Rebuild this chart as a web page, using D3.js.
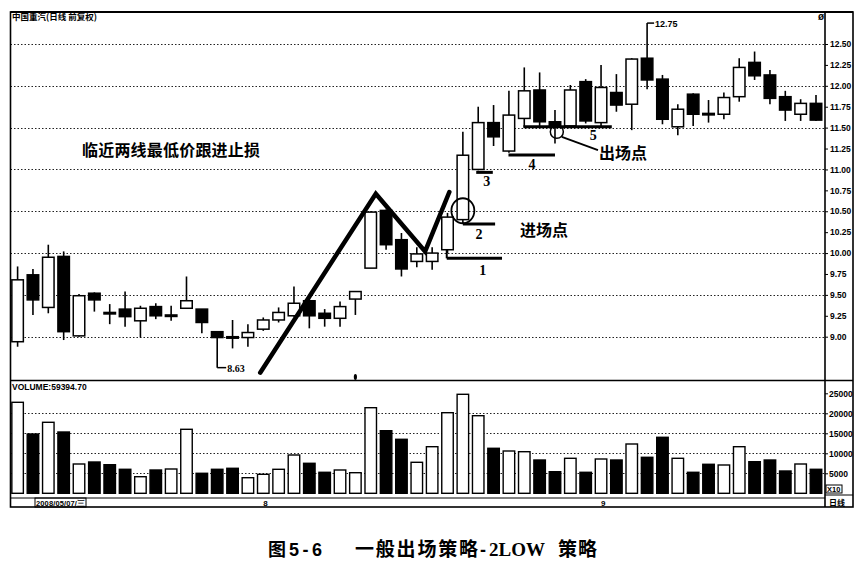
<!DOCTYPE html>
<html><head><meta charset="utf-8">
<script src="https://cdn.jsdelivr.net/npm/d3@7"></script>
<style>
body{margin:0;background:#fff;}
svg{display:block;}
</style></head>
<body>
<svg id="c" width="866" height="572"></svg>
<script>
// ---- data ----
const opens  = [8.94,9.74,9.35,9.96,9.01,9.52,9.29,9.33,9.19,9.36,9.25,9.34,9.33,9.06,9.00,8.99,9.09,9.20,9.25,9.43,9.28,9.22,9.45,9.82,10.51,10.16,9.90,9.90,10.04,10.40,11.00,11.56,11.22,11.61,11.95,11.57,11.52,12.05,11.56,11.92,11.78,12.33,12.08,11.51,11.90,11.67,11.66,11.87,12.28,12.13,11.87,11.66,11.79];
const highs  = [9.84,9.81,10.10,10.02,9.51,9.53,9.39,9.54,9.37,9.40,9.37,9.72,9.33,9.06,9.20,9.15,9.23,9.35,9.60,9.45,9.33,9.42,9.54,10.50,10.52,10.24,10.07,10.07,10.48,11.45,11.75,11.77,11.94,12.22,12.16,11.71,12.01,12.08,12.25,12.14,12.33,12.75,12.13,11.78,11.91,11.83,11.92,12.33,12.41,12.19,11.94,11.84,11.89];
const lows   = [8.88,9.26,9.28,8.96,9.00,9.30,9.15,9.12,8.99,9.21,9.19,9.34,9.04,8.63,8.86,8.88,9.07,9.17,9.24,9.10,9.12,9.12,9.26,9.82,10.04,9.72,9.83,9.80,10.00,10.36,10.99,11.28,11.20,11.51,11.51,11.31,11.50,11.55,11.52,11.69,11.47,11.96,11.54,11.41,11.52,11.56,11.60,11.81,12.07,11.78,11.58,11.58,11.58];
const closes = [9.68,9.44,9.95,9.06,9.49,9.44,9.28,9.24,9.34,9.25,9.26,9.43,9.17,8.99,8.99,9.05,9.20,9.29,9.40,9.25,9.22,9.36,9.54,10.49,10.10,9.81,9.99,10.00,10.43,11.17,11.56,11.39,11.65,11.94,11.57,11.52,11.95,11.58,11.98,11.77,12.32,12.07,11.60,11.72,11.66,11.66,11.86,12.22,12.12,11.85,11.71,11.79,11.59];
const volumes = [22750,14825,17750,15325,7325,7825,7150,6000,4150,5825,6075,16000,5000,6000,6250,3900,4750,6000,9575,7500,5250,5825,5150,21400,15650,13500,7750,11650,20150,24750,19400,11250,10575,10400,8325,5400,8750,5250,8575,8325,12325,9000,14000,8750,5250,7250,7075,11650,7900,8325,5575,7325,6000];
const priceTicks = [9.00,9.25,9.50,9.75,10.00,10.25,10.50,10.75,11.00,11.25,11.50,11.75,12.00,12.25,12.50];
const priceGrid = [9.0,9.5,10.0,10.5,11.0,11.5,12.0,12.5];
const volTicks = [5000,10000,15000,20000,25000];
const volGrid = [5000,10000,15000,20000];
const titleText = "中国重汽(日线 前复权)";
const volumeLabel = "VOLUME:59394.70";
const noteText = "临近两线最低价跟进止损";
const entryText = "进场点";
const exitText = "出场点";
// hand-drawn trend polyline in (bar index, price)
const trendPts = [[15.8,8.57],[23.33,10.71],[26.54,10.02],[28.12,10.73]];
// numbered stop lines
const stopLines = [
  {label:"1", i0:27.95, i1:31.55, p:9.937, li:30.3, dy:17},
  {label:"2", i0:29.0,  i1:31.1,  p:10.347, li:30.05, dy:15},
  {label:"3", i0:29.87, i1:30.95, p:10.965, li:30.55, dy:14},
  {label:"4", i0:31.97, i1:35.0,  p:11.172, li:33.5, dy:14},
  {label:"5", i0:32.94, i1:38.7,  p:11.51, li:37.5, dy:13}
];

// ---- layout ----
const svg = d3.select("#c");
const L = 10.5, R = 825, RR = 853, T = 12, PB = 380.5, SB = 507;
const n = opens.length;
const x = d3.scaleLinear().domain([0, n-1]).range([17.6, 816]);
const y = d3.scaleLinear().domain([9, 12.5]).range([336.7, 44]);
const yv = d3.scaleLinear().domain([0, 25000]).range([493.3, 393.3]);
const bw = 11.5;
const axisFont = "'Liberation Sans Narrow','Liberation Sans',Arial,sans-serif";
const serif = "'Liberation Serif',serif";
const cjk = "'Noto Sans CJK SC',sans-serif";

// gridlines
svg.append("g").selectAll("line").data(priceGrid).join("line")
  .attr("x1", L).attr("x2", R).attr("y1", d=>Math.round(y(d))+0.5).attr("y2", d=>Math.round(y(d))+0.5)
  .attr("stroke","#222").attr("stroke-width",1).attr("stroke-dasharray","1.5,2");
svg.append("g").selectAll("line").data(volGrid).join("line")
  .attr("x1", L).attr("x2", R).attr("y1", d=>Math.round(yv(d))+0.5).attr("y2", d=>Math.round(yv(d))+0.5)
  .attr("stroke","#222").attr("stroke-width",1).attr("stroke-dasharray","1.5,2");

// frame
const fr = svg.append("g").attr("fill","none").attr("stroke","#000");
fr.append("rect").attr("x",L).attr("y",T).attr("width",RR-L).attr("height",SB-T).attr("stroke-width",1.6);
fr.append("line").attr("x1",R).attr("x2",R).attr("y1",T).attr("y2",SB).attr("stroke-width",1.6);
fr.append("line").attr("x1",L).attr("x2",RR).attr("y1",PB).attr("y2",PB).attr("stroke-width",1.6);
fr.append("line").attr("x1",L).attr("x2",R).attr("y1",498).attr("y2",498).attr("stroke-width",1);
fr.append("line").attr("x1",R).attr("x2",RR).attr("y1",495).attr("y2",495).attr("stroke-width",1);
fr.append("line").attr("x1",L).attr("x2",RR).attr("y1",T).attr("y2",T).attr("stroke-width",2.2);

// axes
const ax = svg.append("g").attr("transform",`translate(${R},0)`)
  .call(d3.axisRight(y).tickValues(priceTicks).tickSize(3).tickPadding(2).tickFormat(d3.format(".2f")));
ax.select(".domain").remove();
ax.selectAll("text").attr("font-family",axisFont).attr("font-size",8.5).attr("font-weight","bold");
const avx = svg.append("g").attr("transform",`translate(${R},0)`)
  .call(d3.axisRight(yv).tickValues(volTicks).tickSize(3).tickPadding(1).tickFormat(d=>d));
avx.select(".domain").remove();
avx.selectAll("text").attr("font-family",axisFont).attr("font-size",8.5).attr("font-weight","bold");

// volume bars
svg.append("g").selectAll("rect").data(volumes).join("rect")
  .attr("x",(d,i)=>x(i)-bw/2).attr("width",bw)
  .attr("y",d=>yv(d)).attr("height",d=>yv(0)-yv(d))
  .attr("fill",(d,i)=>closes[i]>=opens[i]?"#fff":"#000")
  .attr("stroke","#000").attr("stroke-width",1.4);

// candles
const cg = svg.append("g");
const idx = d3.range(n);
cg.selectAll("line.w").data(idx).join("line").attr("class","w")
  .attr("x1",i=>x(i)).attr("x2",i=>x(i)).attr("y1",i=>y(highs[i])).attr("y2",i=>y(lows[i]))
  .attr("stroke","#000").attr("stroke-width",1.6);
cg.selectAll("rect").data(idx).join("rect")
  .attr("x",i=>x(i)-bw/2).attr("width",bw)
  .attr("y",i=>y(Math.max(opens[i],closes[i])))
  .attr("height",i=>Math.max(1.5, Math.abs(y(opens[i])-y(closes[i]))))
  .attr("fill",i=>closes[i]>=opens[i]?"#fff":"#000")
  .attr("stroke","#000").attr("stroke-width",1.5);

// min / max markers
const iMin = d3.minIndex(lows), iMax = d3.maxIndex(highs);
svg.append("line").attr("x1",x(iMin)).attr("x2",x(iMin)+9).attr("y1",y(lows[iMin])).attr("y2",y(lows[iMin]))
  .attr("stroke","#000").attr("stroke-width",1.5);
svg.append("text").attr("x",x(iMin)+10).attr("y",y(lows[iMin])+4).text(d3.format(".2f")(lows[iMin]))
  .attr("font-family",serif).attr("font-weight","bold").attr("font-size",10);
svg.append("line").attr("x1",x(iMax)).attr("x2",x(iMax)+7).attr("y1",y(highs[iMax])).attr("y2",y(highs[iMax]))
  .attr("stroke","#000").attr("stroke-width",1.5);
svg.append("text").attr("x",x(iMax)+8).attr("y",y(highs[iMax])+3.5).text(d3.format(".2f")(highs[iMax]))
  .attr("font-family",axisFont).attr("font-weight","bold").attr("font-size",9);

// trend lines
svg.append("path").attr("d", d3.line().x(d=>x(d[0])).y(d=>y(d[1]))(trendPts))
  .attr("fill","none").attr("stroke","#000").attr("stroke-width",4.5)
  .attr("stroke-linecap","round").attr("stroke-linejoin","miter");

// stop lines
const sg = svg.append("g");
stopLines.forEach(s=>{
  sg.append("line").attr("x1",x(s.i0)).attr("x2",x(s.i1)).attr("y1",y(s.p)).attr("y2",y(s.p))
    .attr("stroke","#000").attr("stroke-width",3);
  sg.append("text").attr("x",x(s.li)).attr("y",y(s.p)+s.dy).attr("text-anchor","middle")
    .attr("font-family",serif).attr("font-weight","bold").attr("font-size",14).text(s.label);
});
sg.append("line").attr("x1",x(27.95)).attr("x2",x(27.95)).attr("y1",y(opens[28])).attr("y2",y(9.937))
  .attr("stroke","#000").attr("stroke-width",2);

// circles
svg.append("ellipse").attr("cx",x(29.0)).attr("cy",y(10.506)).attr("rx",11.5).attr("ry",12.5)
  .attr("fill","none").attr("stroke","#000").attr("stroke-width",1.8);
svg.append("ellipse").attr("cx",x(35.12)).attr("cy",y(11.45)).attr("rx",6.5).attr("ry",6.5)
  .attr("fill","none").attr("stroke","#000").attr("stroke-width",1.5);
svg.append("line").attr("x1",x(35.12)+5).attr("y1",y(11.45)+5).attr("x2",x(37.8)).attr("y2",y(11.23))
  .attr("stroke","#000").attr("stroke-width",1.8);

// annotation texts
svg.append("text").attr("x",82).attr("y",156).attr("font-family",cjk).attr("font-size",16)
  .attr("font-weight","bold").attr("textLength",178).text(noteText);
svg.append("text").attr("x",520).attr("y",235.5).attr("font-family",cjk).attr("font-size",16)
  .attr("font-weight","bold").text(entryText);
svg.append("text").attr("x",599).attr("y",159).attr("font-family",cjk).attr("font-size",16)
  .attr("font-weight","bold").text(exitText);

// header
svg.append("text").attr("x",12).attr("y",20).attr("font-family",cjk).attr("font-size",8.5)
  .attr("font-weight","bold").text(titleText);
svg.append("text").attr("x",818).attr("y",20).attr("font-family",axisFont).attr("font-size",10)
  .attr("font-weight","bold").text("ø");
svg.append("text").attr("x",12).attr("y",390).attr("font-family",axisFont).attr("font-size",8.5)
  .attr("font-weight","bold").text(volumeLabel);
svg.append("ellipse").attr("cx",x(22)).attr("cy",377).attr("rx",1.6).attr("ry",3).attr("fill","#000");

// date strip
svg.append("rect").attr("x",35).attr("y",498).attr("width",51).attr("height",9).attr("fill","none").attr("stroke","#000");
svg.append("text").attr("x",36).attr("y",505.5).attr("font-family",axisFont).attr("font-size",7.5)
  .attr("font-weight","bold").attr("textLength",49).text("2008/05/07/三");
svg.append("text").attr("x",x(16)).attr("y",506).attr("font-family",axisFont).attr("font-size",8).attr("font-weight","bold").text("8");
svg.append("text").attr("x",x(38)).attr("y",506).attr("font-family",axisFont).attr("font-size",8).attr("font-weight","bold").text("9");
svg.append("rect").attr("x",826).attr("y",485).attr("width",16).attr("height",8).attr("fill","none").attr("stroke","#000");
svg.append("text").attr("x",827).attr("y",492).attr("font-family",axisFont).attr("font-size",7.5).attr("font-weight","bold").text("X10");
svg.append("text").attr("x",829).attr("y",505.5).attr("font-family",cjk).attr("font-size",8).attr("font-weight","bold").text("日线");

// caption, laid out in pieces
const cap = svg.append("g").attr("font-weight","bold");
cap.append("text").attr("x",268).attr("y",556).attr("font-family",cjk).attr("font-size",18).text("图");
cap.append("text").attr("x",289).attr("y",556).attr("font-family","'Liberation Sans',sans-serif").attr("font-size",18)
  .attr("textLength",33).text("5-6");
cap.append("text").attr("x",355).attr("y",556).attr("font-family",cjk).attr("font-size",19)
  .attr("textLength",123).text("一般出场策略");
cap.append("text").attr("x",480).attr("y",556).attr("font-family","'Liberation Sans',sans-serif").attr("font-size",18).text("-");
cap.append("text").attr("x",489).attr("y",556).attr("font-family",serif).attr("font-size",19)
  .attr("textLength",56).text("2LOW");
cap.append("text").attr("x",558).attr("y",556).attr("font-family",cjk).attr("font-size",19)
  .attr("textLength",39).text("策略");
</script>
</body></html>
